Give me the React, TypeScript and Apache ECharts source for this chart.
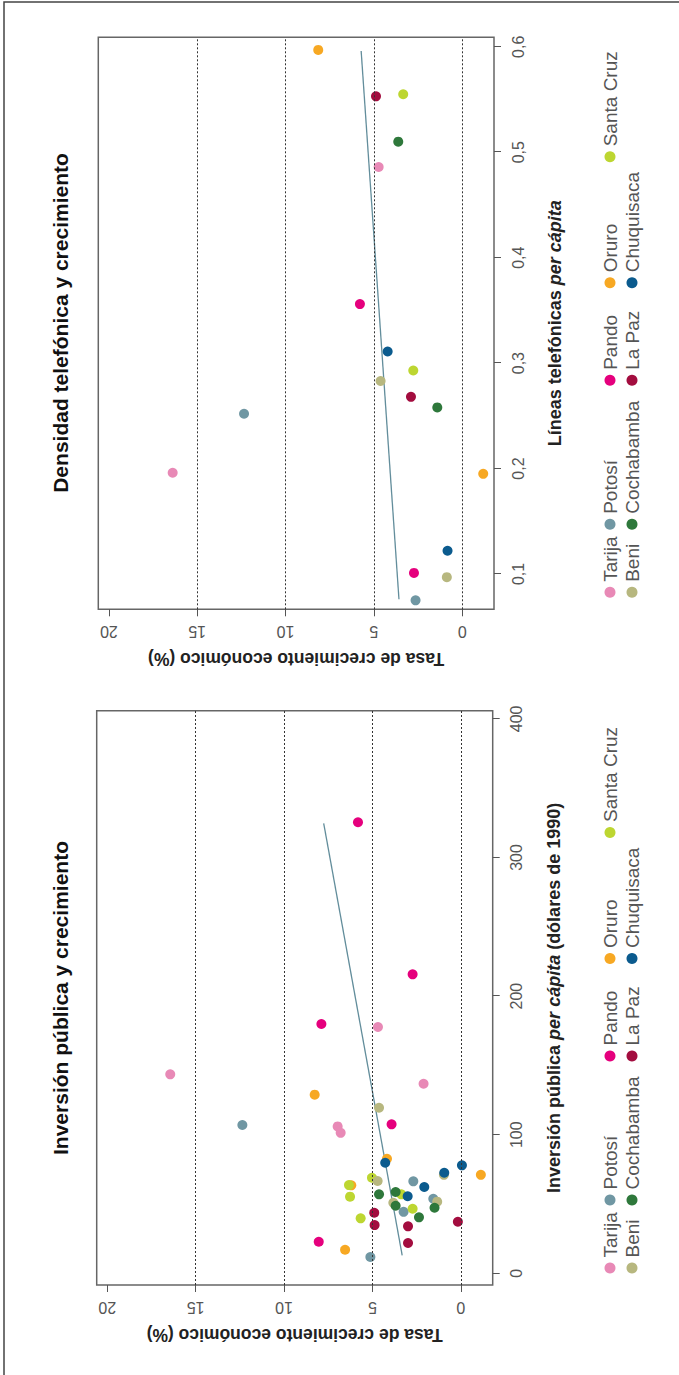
import { useEffect, useRef } from 'react';
import * as echarts from 'echarts';

const FONT = '"Liberation Sans", Arial, Helvetica, sans-serif';

const departamentos = ['Tarija', 'Potosí', 'Pando', 'Oruro', 'Santa Cruz', 'Beni', 'Cochabamba', 'La Paz', 'Chuquisaca'];
const colores = ['#e889b6', '#7097a3', '#e5007d', '#f7a823', '#bdd631', '#b7b77f', '#2e783b', '#a30d3f', '#0b5b8e'];

// Panel izquierdo: [inversión pública per cápita (US$ de 1990), tasa de crecimiento (%)]
const invTarija = [[177.7, 4.69], [143.6, 16.44], [136.8, 2.11], [106.0, 6.97], [101.4, 6.8]];
const invPotosi = [[107.0, 12.36], [66.4, 2.69], [53.8, 1.56], [44.4, 3.24], [11.8, 5.12]];
const invPando = [[325.4, 5.82], [215.7, 2.73], [179.9, 7.89], [107.5, 3.92], [22.8, 8.04]];
const invOruro = [[128.9, 8.27], [82.7, 4.18], [71.1, -1.13], [63.5, 6.2], [17.0, 6.55]];
const invSantaCruz = [[69.0, 5.03], [63.7, 6.33], [57.0, 3.37], [55.3, 6.27], [46.6, 2.73], [39.7, 5.67]];
const invBeni = [[119.5, 4.63], [71.1, 0.96], [66.6, 4.71], [51.7, 1.34], [50.9, 3.82]];
const invCochabamba = [[58.7, 3.69], [57.0, 4.63], [48.8, 3.69], [47.3, 1.49], [40.4, 2.37]];
const invLaPaz = [[43.7, 4.9], [37.2, 0.17], [34.8, 4.88], [33.9, 2.99], [21.9, 2.99]];
const invChuquisaca = [[79.8, 4.28], [77.9, -0.06], [72.6, 0.94], [62.3, 2.07], [55.6, 3.01]];

// Panel derecho: [líneas telefónicas per cápita, tasa de crecimiento (%)]
const telTarija = [[0.486, 4.73], [0.196, 16.39]];
const telPotosi = [[0.252, 12.35], [0.075, 2.64]];
const telPando = [[0.356, 5.79], [0.101, 2.73]];
const telOruro = [[0.597, 8.15], [0.195, -1.19]];
const telSantaCruz = [[0.555, 3.34], [0.293, 2.77]];
const telBeni = [[0.283, 4.62], [0.097, 0.87]];
const telCochabamba = [[0.51, 3.62], [0.258, 1.41]];
const telLaPaz = [[0.553, 4.88], [0.268, 2.9]];
const telChuquisaca = [[0.311, 4.22], [0.122, 0.83]];

// Rectas de ajuste (extremos)
const ajusteInversion = [[13, 3.32], [324.7, 7.76]];
const ajusteTelefonos = [[0.076, 3.58], [0.596, 5.72]];

const ticksCrecimiento = [0, 5, 10, 15, 20];
const ticksInversion = [0, 100, 200, 300, 400];
const ticksTelefonos = [0.1, 0.2, 0.3, 0.4, 0.5, 0.6];
const lineasGuia = [0, 5, 10, 15];

const datosInversion = [invTarija, invPotosi, invPando, invOruro, invSantaCruz, invBeni, invCochabamba, invLaPaz, invChuquisaca];
const datosTelefonos = [telTarija, telPotosi, telPando, telOruro, telSantaCruz, telBeni, telCochabamba, telLaPaz, telChuquisaca];

// Geometría de los dos paneles (coordenadas del lienzo apaisado)
const panels = [
  { left: 90, top: 96.7, width: 574.3, height: 396, center: 377 },
  { left: 765.7, top: 98.3, width: 572, height: 395.7, center: 1052 },
];
const legendCols = [17, 85, 229, 326.5, 452.5];
const legendRows = [610, 632];

const tickLabel = { fontFamily: FONT, fontSize: 16, color: '#555' };
const NAME_SIZE = 18;
const nameRich = {
  b: { fontFamily: FONT, fontSize: NAME_SIZE, fontWeight: 'bold' as const, color: '#222' },
  i: { fontFamily: FONT, fontSize: NAME_SIZE, fontWeight: 'bold' as const, fontStyle: 'italic' as const, color: '#222' },
};

function yAxisFor(gridIndex: number) {
  return {
    gridIndex,
    type: 'value' as const,
    min: -1.8,
    max: 20.6,
    axisLine: { show: false, onZero: false },
    axisTick: { show: true, length: 7, customValues: ticksCrecimiento, lineStyle: { color: '#555', width: 1 } },
    axisLabel: { customValues: ticksCrecimiento, rotate: 90, margin: 14, ...tickLabel },
    splitLine: { show: false },
    name: 'Tasa de crecimiento económico (%)',
    nameLocation: 'middle' as const,
    nameRotate: 90,
    nameGap: 41,
    nameTextStyle: { fontFamily: FONT, fontSize: 17.5, fontWeight: 'bold' as const, color: '#222' },
  };
}

function buildOption() {
  const series: any[] = [];
  const legends: any[] = [];

  [ajusteInversion, ajusteTelefonos].forEach((fit, p) => {
    series.push({
      type: 'line',
      xAxisIndex: p,
      yAxisIndex: p,
      data: fit,
      symbol: 'none',
      showSymbol: false,
      silent: true,
      z: 2,
      lineStyle: { color: '#628d9b', width: 1.3 },
      markLine: {
        silent: true,
        symbol: ['none', 'none'],
        label: { show: false },
        lineStyle: { color: '#333', type: [2, 2], width: 1 },
        data: lineasGuia.map((v) => ({ yAxis: v })),
      },
    });
  });

  departamentos.forEach((name, i) => {
    [datosInversion[i], datosTelefonos[i]].forEach((data, p) => {
      series.push({
        type: 'scatter',
        name,
        xAxisIndex: p,
        yAxisIndex: p,
        data,
        symbol: 'circle',
        symbolSize: 10,
        itemStyle: { color: colores[i], opacity: 1 },
        z: 3,
      });
      const row = i < 5 ? 0 : 1;
      const col = i < 5 ? i : i - 5;
      legends.push({
        data: [name],
        left: panels[p].left + legendCols[col] - 5.5,
        top: legendRows[row] - 10,
        padding: 0,
        icon: 'circle',
        itemWidth: 11,
        itemHeight: 11,
        selectedMode: false,
        textStyle: { fontFamily: FONT, fontSize: 19, lineHeight: 20, color: '#555' },
      });
    });
  });

  const titleStyle = {
    fontFamily: FONT,
    fontSize: 21,
    fontWeight: 'bold' as const,
    fill: '#111',
    align: 'center' as const,
    verticalAlign: 'middle' as const,
  };

  return {
    animation: false,
    backgroundColor: '#ffffff',
    grid: panels.map((g) => ({
      left: g.left,
      top: g.top,
      width: g.width,
      height: g.height,
      show: true,
      borderColor: '#666',
      borderWidth: 1.5,
      backgroundColor: 'transparent',
      outerBoundsMode: 'none',
    })),
    xAxis: [
      {
        gridIndex: 0,
        type: 'value',
        min: -8.4,
        max: 405.9,
        axisLine: { show: false, onZero: false },
        axisTick: { show: true, length: 7, customValues: ticksInversion, lineStyle: { color: '#555', width: 1 } },
        axisLabel: { customValues: ticksInversion, margin: 16, ...tickLabel },
        splitLine: { show: false },
        name: '{b|Inversión pública }{i|per cápita}{b| (dólares de 1990)}',
        nameLocation: 'middle',
        nameGap: 52,
        nameTextStyle: { rich: nameRich },
      },
      {
        gridIndex: 1,
        type: 'value',
        min: 0.0665,
        max: 0.609,
        axisLine: { show: false, onZero: false },
        axisTick: { show: true, length: 7, customValues: ticksTelefonos, lineStyle: { color: '#555', width: 1 } },
        axisLabel: {
          customValues: ticksTelefonos,
          margin: 16,
          formatter: (v: number) => v.toFixed(1).replace('.', ','),
          ...tickLabel,
        },
        splitLine: { show: false },
        name: '{b|Líneas telefónicas }{i|per cápita}',
        nameLocation: 'middle',
        nameGap: 52,
        nameTextStyle: { rich: nameRich },
      },
    ],
    yAxis: [yAxisFor(0), yAxisFor(1)],
    legend: legends,
    graphic: [
      {
        type: 'rect',
        silent: true,
        shape: { x: -10, y: 4, width: 1383, height: 700 },
        style: { fill: 'none', stroke: '#444', lineWidth: 1.5 },
      },
      {
        type: 'text',
        x: panels[0].center,
        y: 60,
        style: { text: 'Inversión pública y crecimiento', ...titleStyle },
      },
      {
        type: 'text',
        x: panels[1].center,
        y: 60,
        style: { text: 'Densidad telefónica y crecimiento', ...titleStyle },
      },
    ],
    series,
  };
}

export default function App() {
  const ref = useRef<HTMLDivElement>(null);

  useEffect(() => {
    if (!ref.current) return;
    const chart = echarts.init(ref.current, null, { renderer: 'svg' });
    chart.setOption(buildOption() as any);
    return () => chart.dispose();
  }, []);

  return (
    <div
      style={{
        position: 'fixed',
        left: 0,
        top: 0,
        width: 679,
        height: 1375,
        overflow: 'hidden',
        background: '#ffffff',
      }}
    >
      <div
        ref={ref}
        style={{
          position: 'absolute',
          left: 0,
          top: 0,
          width: 1375,
          height: 679,
          transformOrigin: '0 0',
          transform: 'translate(0px, 1375px) rotate(-90deg)',
        }}
      />
    </div>
  );
}
